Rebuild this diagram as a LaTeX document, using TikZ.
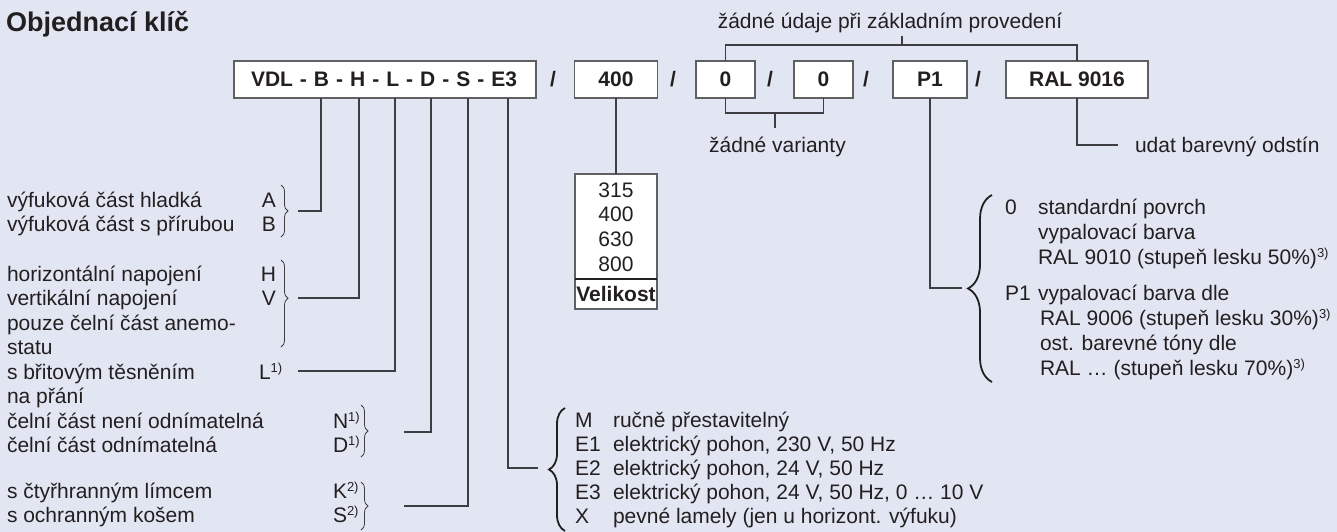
\documentclass[tikz,border=0pt]{standalone}
\usepackage{fontspec}
\setmainfont{Liberation Sans}
\usetikzlibrary{decorations.pathreplacing}
\definecolor{bg}{RGB}{226,230,243}
\definecolor{ink}{RGB}{35,31,32}
\definecolor{wirec}{RGB}{62,62,66}
\definecolor{framec}{RGB}{95,95,100}
\newcommand\kfont{\fontsize{21}{24.5}\selectfont}
\newcommand\tfont{\fontsize{27}{30}\selectfont\bfseries}
% small raised footnote marks such as 1) 2) 3)
\newcommand\fn[1]{\raisebox{7pt}{\fontsize{13}{13}\selectfont #1}}
\begin{document}
\begin{tikzpicture}[x=1pt,y=-1pt,
  every node/.style={inner sep=0pt,outer sep=0pt,text=ink,font=\kfont},
  keybox/.style={draw=framec,line width=1.3pt,fill=white,font=\kfont\bfseries,minimum height=37pt},
  wire/.style={draw=wirec,line width=1.3pt},
  lbl/.style={anchor=base west},
  keyltr/.style={anchor=base east},
  slash/.style={font=\kfont\bfseries},
  smallbrace/.style={draw=wirec,line width=0.8pt,decorate,decoration={brace,amplitude=7pt}},
  bigbrace/.style={draw=ink,line width=1.8pt,decorate,decoration={brace,amplitude=#1}}]

% canvas
\fill[bg] (0,0) rectangle (1337,532);
\useasboundingbox (0,0) rectangle (1337,532);

% title
\node[lbl,font=\tfont] (title) at (6,32) {Objednací klíč};

% order code boxes
\node[keybox,anchor=west,text width=268pt,inner xsep=17pt,align=left] (vdl) at (234,79.5) {VDL - B - H - L - D - S - E3};
\node[keybox,minimum width=83pt] (n400) at (616,79.5) {400};
\node[keybox,minimum width=59pt] (z1) at (725.5,79.5) {0};
\node[keybox,minimum width=59pt] (z2) at (823.5,79.5) {0};
\node[keybox,minimum width=74pt] (p1) at (930,79.5) {P1};
\node[keybox,minimum width=142pt] (ral) at (1077,79.5) {RAL 9016};
\foreach \x/\n in {553/s1,673/s2,770/s3,866/s4,978/s5}
  \node[slash] (\n) at (\x,79.5) {/};

% bracket over the optional fields
\node[anchor=base] (topnote) at (890,29) {žádné údaje při základním provedení};
\coordinate (topTick) at (902,45);
\coordinate (topTickEnd) at (902,36);
\draw[wire] (z1.north) -- (z1.north |- topTick) -| (ral.north);
\draw[wire] (topTick) -- (topTickEnd);

% bracket under the two variant fields
\node[anchor=base] (varnote) at (777.5,152) {žádné varianty};
\coordinate (varTick) at (775,113);
\coordinate (varTickEnd) at (775,128);
\draw[wire] (z1.south) -- (z1.south |- varTick) -| (z2.south);
\draw[wire] (varTick) -- (varTickEnd);

% colour shade
\node[lbl] (ralnote) at (1135,152) {udat barevný odstín};
\coordinate (eRAL) at (1118,145);
\draw[wire] (ral.south) |- (eRAL);

% size table
\node[draw=framec,line width=1.3pt,fill=white,minimum width=82pt,minimum height=135pt,anchor=north] (size) at (616,174) {};
\foreach \v/\y in {315/197.5,400/221.5,630/246.5,800/271.5}
  \node[anchor=base] (sz\v) at (616,\y) {\v};
\coordinate (divY) at (0,279);
\draw[draw=ink,line width=2.6pt] (size.west |- divY) -- (size.east |- divY);
\node[anchor=base,font=\kfont\bfseries] (vel) at (616,301.5) {Velikost};
\draw[wire] (n400.south) -- (size.north);

% left column of options
\node[lbl] (t1) at (7,207) {výfuková část hladká};
\node[keyltr] (kA) at (276,207) {A};
\node[lbl] (t2) at (7,231.5) {výfuková část s přírubou};
\node[keyltr] (kB) at (276,231.5) {B};
\node[lbl] (t3) at (7,281) {horizontální napojení};
\node[keyltr] (kH) at (276,281) {H};
\node[lbl] (t4) at (7,305.5) {vertikální napojení};
\node[keyltr] (kV) at (276,305.5) {V};
\node[lbl] (t5) at (7,330) {pouze čelní část anemo-};
\node[lbl] (t6) at (7,354.5) {statu};
\node[lbl] (t7) at (7,379) {s břitovým těsněním};
\node[lbl] (kL) at (259,379) {L\fn{1)}};
\node[lbl] (t8) at (7,403.5) {na přání};
\node[lbl] (t9) at (7,428) {čelní část není odnímatelná};
\node[lbl] (kN) at (333,428) {N\fn{1)}};
\node[lbl] (t10) at (7,452.5) {čelní část odnímatelná};
\node[lbl] (kD) at (333,452.5) {D\fn{1)}};
\node[lbl] (t11) at (7,498) {s čtyřhranným límcem};
\node[lbl] (kK) at (333,498) {K\fn{2)}};
\node[lbl] (t12) at (7,522.5) {s ochranným košem};
\node[lbl] (kS) at (333,522.5) {S\fn{2)}};

\draw[smallbrace] (281,185) -- (281,237);
\draw[smallbrace,decoration={aspect=0.44}] (281,260) -- (281,347);
\draw[smallbrace] (361,405) -- (361,457);
\draw[smallbrace] (361,482) -- (361,530);

% leaders from the type code
\coordinate (eAB) at (298,211);
\coordinate (eHV) at (298,298);
\coordinate (eL) at (298,371);
\coordinate (eND) at (404,432);
\coordinate (eKS) at (404,506);
\coordinate (eM) at (538,468);
\draw[wire] (vdl.south -| 321,0) |- (eAB);
\draw[wire] (vdl.south -| 359,0) |- (eHV);
\draw[wire] (vdl.south -| 395,0) |- (eL);
\draw[wire] (vdl.south -| 431,0) |- (eND);
\draw[wire] (vdl.south -| 468,0) |- (eKS);
\draw[wire] (vdl.south -| 508,0) |- (eM);

% actuator options
\draw[bigbrace=16pt] (565,531) -- (565,408);
\node[lbl] (mM) at (575,427.5) {M};
\node[lbl] (mMt) at (613,427.5) {ručně přestavitelný};
\node[lbl] (mE1) at (575,451.5) {E1};
\node[lbl] (mE1t) at (613,451.5) {elektrický pohon, 230 V, 50 Hz};
\node[lbl] (mE2) at (575,475.5) {E2};
\node[lbl] (mE2t) at (613,475.5) {elektrický pohon, 24 V, 50 Hz};
\node[lbl] (mE3) at (575,499.5) {E3};
\node[lbl] (mE3t) at (613,499.5) {elektrický pohon, 24 V, 50 Hz, 0 … 10 V};
\node[lbl] (mX) at (575,523.5) {X};
\node[lbl] (mXt) at (613,523.5) {pevné lamely (jen u horizont. výfuku)};

% surface finish options
\coordinate (eP) at (962,288);
\draw[wire] (p1.south) |- (eP);
\draw[bigbrace=24pt] (992,382) -- (992,195);
\node[lbl] (r0) at (1005,214.5) {0};
\node[lbl] (r1) at (1038,214.5) {standardní povrch};
\node[lbl] (r2) at (1038,239.5) {vypalovací barva};
\node[lbl] (r3) at (1038,264.5) {RAL 9010 (stupeň lesku 50\%)\fn{3)}};
\node[lbl] (rP) at (1005,300.5) {P1};
\node[lbl] (r4) at (1038,300.5) {vypalovací barva dle};
\node[lbl] (r5) at (1040,325.5) {RAL 9006 (stupeň lesku 30\%)\fn{3)}};
\node[lbl] (r6) at (1040,350.5) {ost. barevné tóny dle};
\node[lbl] (r7) at (1040,375.5) {RAL … (stupeň lesku 70\%)\fn{3)}};
\end{tikzpicture}
\end{document}
